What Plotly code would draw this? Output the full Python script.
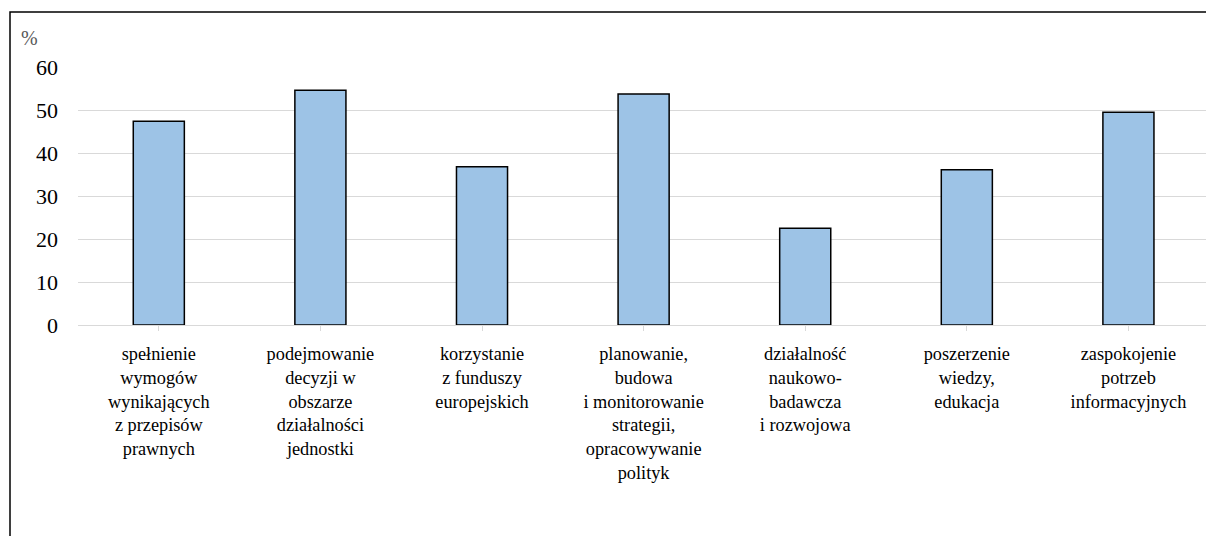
import plotly.graph_objects as go

categories = [
    "spełnienie<br>wymogów<br>wynikających<br>z przepisów<br>prawnych",
    "podejmowanie<br>decyzji w<br>obszarze<br>działalności<br>jednostki",
    "korzystanie<br>z funduszy<br>europejskich",
    "planowanie,<br>budowa<br>i monitorowanie<br>strategii,<br>opracowywanie<br>polityk",
    "działalność<br>naukowo-<br>badawcza<br>i rozwojowa",
    "poszerzenie<br>wiedzy,<br>edukacja",
    "zaspokojenie<br>potrzeb<br>informacyjnych",
]
values = [47.4, 54.6, 36.8, 53.7, 22.5, 36.1, 49.5]
y_ticks = [0, 10, 20, 30, 40, 50, 60]
unit_label = "%"

FONT = "'Times New Roman', 'Liberation Serif', serif"

fig = go.Figure()
fig.add_trace(go.Bar(
    x=list(range(len(categories))),
    y=values,
    marker=dict(color="#9DC3E6", line=dict(color="#000000", width=1.5)),
    hoverinfo="skip",
))

W, H = 1206, 536
ml, mt, mb = 78, 67, 211
plot_w = W - ml
plot_h = H - mt - mb

def px_to_paper_x(px):
    return (px - ml) / plot_w

def px_to_paper_y(py):
    return (H - mb - py) / plot_h

fig.update_layout(
    width=W, height=H,
    margin=dict(l=ml, r=0, t=mt, b=mb, pad=0),
    paper_bgcolor="white", plot_bgcolor="white",
    showlegend=False,
    bargap=0.684,
    font=dict(family=FONT, size=18, color="#000000"),
    xaxis=dict(
        tickmode="array",
        tickvals=list(range(len(categories))),
        ticktext=categories,
        range=[-0.5, 6.48],
        tickson="boundaries",
        ticks="outside", ticklen=5, tickcolor="#d9d9d9", tickwidth=1,
        showline=True, linecolor="#d9d9d9", linewidth=1.3,
        showgrid=False, zeroline=False,
        tickangle=0,
        ticklabelstandoff=7,
        tickfont=dict(family=FONT, size=18.3, color="#000000"),
    ),
    yaxis=dict(
        range=[0, 60],
        tickmode="array", tickvals=y_ticks,
        ticks="", ticklabelstandoff=19,
        showgrid=True, gridcolor="#d9d9d9", gridwidth=1.3,
        zeroline=False, showline=False,
        tickfont=dict(family=FONT, size=22, color="#000000"),
    ),
    shapes=[dict(
        type="rect", xref="paper", yref="paper",
        x0=px_to_paper_x(10), x1=px_to_paper_x(1230),
        y0=px_to_paper_y(560), y1=px_to_paper_y(12),
        line=dict(color="#000000", width=1.5), fillcolor="rgba(0,0,0,0)",
        layer="above",
    )],
    annotations=[dict(
        text=unit_label, xref="paper", yref="paper",
        x=px_to_paper_x(19), y=px_to_paper_y(38),
        xanchor="left", yanchor="middle", showarrow=False,
        font=dict(family=FONT, size=20, color="#595959"),
    )],
)

fig.write_html(
    "out.html",
    config={"displayModeBar": False},
    post_script="document.body.style.margin='0';document.body.style.overflow='hidden';",
)
